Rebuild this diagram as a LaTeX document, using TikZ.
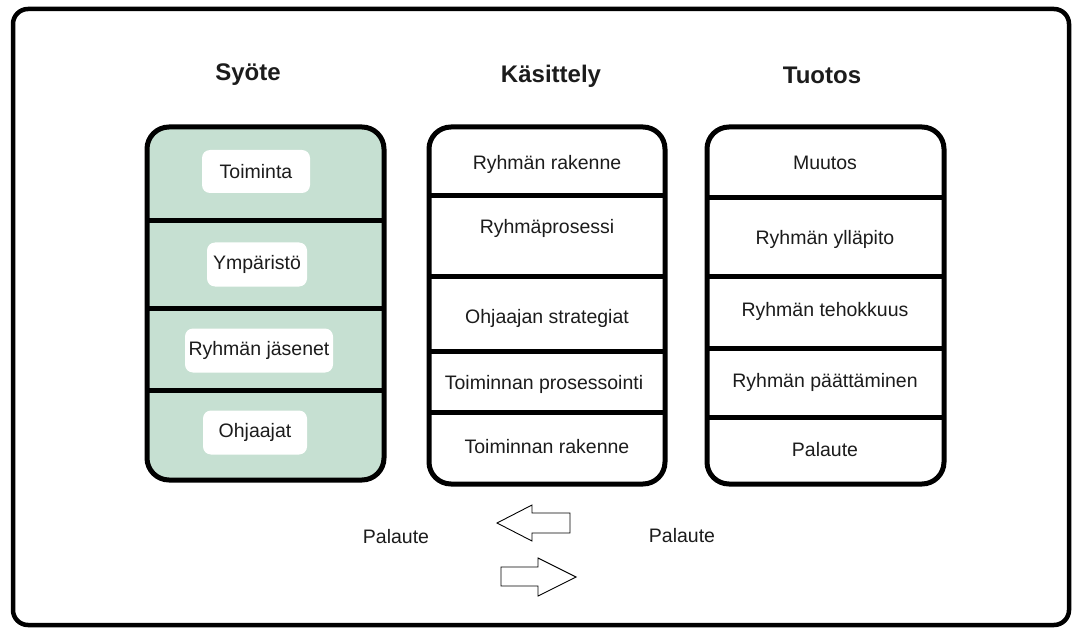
\documentclass[tikz,border=0pt]{standalone}
\usepackage{fontspec}
\setmainfont{Liberation Sans}
\definecolor{boxgreen}{RGB}{198,224,210}
\definecolor{txt}{RGB}{28,28,28}
\begin{document}
\begin{tikzpicture}[x=1pt,y=-1pt,
  frame/.style={draw=black, line width=4.5pt, rounded corners=15pt},
  col/.style={draw=black, line width=5pt, rounded corners=22pt, outer sep=0pt, inner sep=0pt, anchor=north west, minimum width=237pt},
  div/.style={draw=black, line width=5pt, line cap=butt},
  lbl/.style={text=txt, font=\fontsize{19.5}{23}\selectfont, inner sep=0pt},
  ttl/.style={text=txt, font=\bfseries\fontsize{24}{27}\selectfont, inner sep=0pt},
  pill/.style={lbl, fill=white, rounded corners=8pt, minimum height=44pt},
  fbarrow/.style={draw=black, line width=0.9pt, fill=white, line join=miter}
]
\useasboundingbox (0,0) rectangle (1073,628);
\fill[white] (0,0) rectangle (1073,628);
\draw[frame] (13,9) rectangle (1069,625);

% titles
\node[ttl] (tsyote) at (248,75) {Syöte};
\node[ttl] (tkas) at (551,76) {Käsittely};
\node[ttl] (ttuo) at (822,75) {Tuotos};

% columns
\node[col, fill=boxgreen, minimum height=353pt] (syote) at (147,127) {};
\node[col, fill=white, minimum height=357pt, minimum width=236pt] (kas) at (429,127) {};
\node[col, fill=white, minimum height=357pt] (tuo) at (707,127) {};

% dividers
\draw[div] (syote.west |- 0,221) -- (syote.east |- 0,221);
\draw[div] (syote.west |- 0,308) -- (syote.east |- 0,308);
\draw[div] (syote.west |- 0,390) -- (syote.east |- 0,390);

\draw[div] (kas.west |- 0,196) -- (kas.east |- 0,196);
\draw[div] (kas.west |- 0,277) -- (kas.east |- 0,277);
\draw[div] (kas.west |- 0,351) -- (kas.east |- 0,351);
\draw[div] (kas.west |- 0,412) -- (kas.east |- 0,412);

\draw[div] (tuo.west |- 0,198) -- (tuo.east |- 0,198);
\draw[div] (tuo.west |- 0,277) -- (tuo.east |- 0,277);
\draw[div] (tuo.west |- 0,348) -- (tuo.east |- 0,348);
\draw[div] (tuo.west |- 0,417) -- (tuo.east |- 0,417);

% input items
\node[pill, minimum width=108pt, minimum height=43pt] (s1) at (256,171.5) {Toiminta};
\node[pill, minimum width=100pt] (s2) at (257,264.5) {Ympäristö};
\node[pill, minimum width=148pt] (s3) at (259,350.5) {Ryhmän jäsenet};
\node[pill, minimum width=104pt] (s4) at (255,432.5) {Ohjaajat};

% processing items
\node[lbl] (k1) at (547,164) {Ryhmän rakenne};
\node[lbl] (k2) at (547,228) {Ryhmäprosessi};
\node[lbl] (k3) at (547,318) {Ohjaajan strategiat};
\node[lbl] (k4) at (544,384) {Toiminnan prosessointi};
\node[lbl] (k5) at (547,447) {Toiminnan rakenne};

% output items
\node[lbl] (o1) at (825,163) {Muutos};
\node[lbl] (o2) at (825,239) {Ryhmän ylläpito};
\node[lbl] (o3) at (825,311) {Ryhmän tehokkuus};
\node[lbl] (o4) at (825,382) {Ryhmän päättäminen};
\node[lbl] (o5) at (825,450) {Palaute};

% feedback
\node[lbl] (p1) at (396,537) {Palaute};
\node[lbl] (p2) at (682,536) {Palaute};

\draw[fbarrow] (497,523) -- (532,505) -- (532,513) -- (570,513) -- (570,533) -- (532,533) -- (532,541) -- cycle;
\draw[fbarrow] (576,577) -- (538,558) -- (538,567) -- (501,567) -- (501,586) -- (538,586) -- (538,596) -- cycle;
\end{tikzpicture}
\end{document}
